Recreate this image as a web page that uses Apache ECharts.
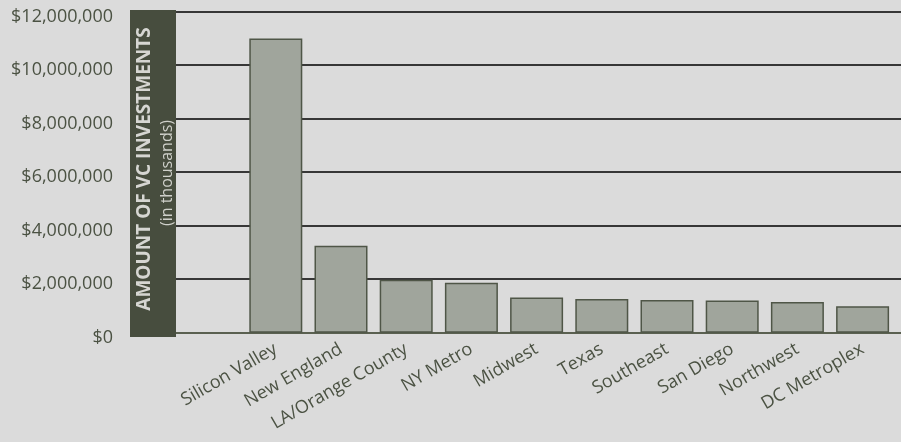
<!DOCTYPE html>
<html>
<head>
<meta charset="utf-8">
<script src="https://cdn.jsdelivr.net/npm/echarts@6/dist/echarts.min.js"></script>
<style>
html,body{margin:0;padding:0;background:#dbdbdb;}
#c{width:901px;height:442px;}
</style>
</head>
<body>
<div id="c"></div>
<script>
const categories = ["Silicon Valley","New England","LA/Orange County","NY Metro","Midwest","Texas","Southeast","San Diego","Northwest","DC Metroplex"];
const investments = [11000000, 3250000, 1980000, 1870000, 1320000, 1260000, 1220000, 1200000, 1150000, 990000];
const yTicks = [0, 2000000, 4000000, 6000000, 8000000, 10000000, 12000000];
const axisTitle = "AMOUNT OF VC INVESTMENTS";
const axisSubtitle = "(in thousands)";

const textColor = "#4b5243";
const chart = echarts.init(document.getElementById('c'), null, {renderer:'canvas'});
const yMin = yTicks[0], yMax = yTicks[yTicks.length-1], yStep = yTicks[1]-yTicks[0];
const fmt = v => '$' + v.toLocaleString('en-US');

chart.setOption({
  backgroundColor: '#dbdbdb',
  animation: false,
  graphic: [
    {type:'rect', shape:{x:130, y:10, width:46, height:327}, style:{fill:'#474d3e'}, z:10},
    {type:'text', x:145, y:169, rotation:Math.PI/2, z:11,
      style:{text:axisTitle, fill:'#d6d6d2', font:'bold 19px "Open Sans"', align:'center', verticalAlign:'middle'}},
    {type:'text', x:167, y:173, rotation:Math.PI/2, z:11,
      style:{text:axisSubtitle, fill:'#cfd0ca', font:'16px "Open Sans"', align:'center', verticalAlign:'middle'}}
  ],
  grid: [
    {left:175, right:0, top:11.7, bottom:109.3},
    {left:243.2, width:652, top:11.7, bottom:109.3}
  ],
  xAxis: [
    {type:'category', gridIndex:0, data:[''], show:false},
    {type:'category', gridIndex:1, data:categories,
      axisLine:{show:false}, axisTick:{show:false},
      axisLabel:{rotate:30, margin:15, color:textColor, fontSize:18, fontFamily:'"Open Sans"', interval:0}}
  ],
  yAxis: [
    {type:'value', gridIndex:0, min:yMin, max:yMax, interval:yStep,
      axisLine:{show:false}, axisTick:{show:false},
      axisLabel:{formatter:fmt, color:textColor, fontSize:18, fontFamily:'"Open Sans"', margin:62, verticalAlign:'top', lineHeight:10},
      splitLine:{lineStyle:{color:'#000', width:1.5}}},
    {type:'value', gridIndex:1, min:yMin, max:yMax, interval:yStep, show:false}
  ],
  series: [
    {type:'bar', xAxisIndex:1, yAxisIndex:1, data:investments, barWidth:53,
      itemStyle:{color:'#a0a59c', borderColor:'#4f5647', borderWidth:1.5}, z:5},
    {type:'line', xAxisIndex:0, yAxisIndex:0, data:[], markLine:{silent:true, symbol:'none', label:{show:false},
      lineStyle:{color:'#5a6050', width:2, type:'solid'}, data:[{yAxis:0}]}}
  ]
});
</script>
</body>
</html>
